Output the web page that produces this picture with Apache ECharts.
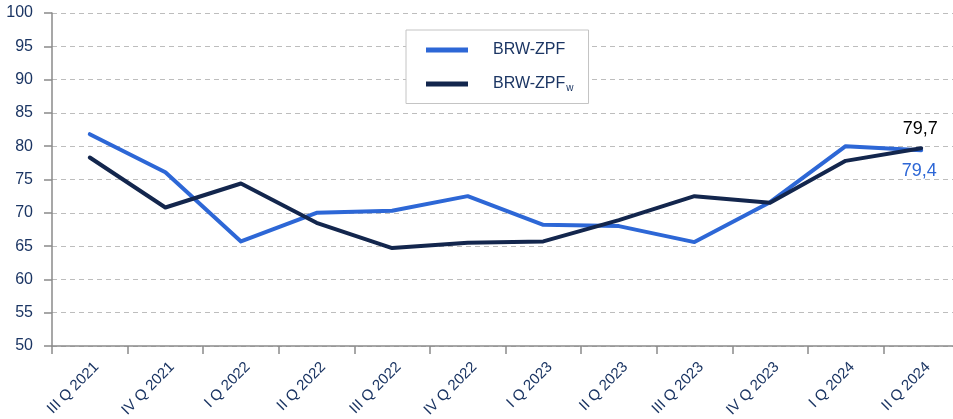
<!DOCTYPE html>
<html><head><meta charset="utf-8">
<script src="https://cdn.jsdelivr.net/npm/echarts@6/dist/echarts.min.js"></script>
<style>html,body{margin:0;padding:0;background:#fff}#c{width:953px;height:419px}</style>
</head><body><div id="c"></div>
<script>
const categories = ['III Q 2021','IV Q 2021','I Q 2022','II Q 2022','III Q 2022','IV Q 2022','I Q 2023','II Q 2023','III Q 2023','IV Q 2023','I Q 2024','II Q 2024'];
const brwZpf  = [81.8, 76.1, 65.7, 70.0, 70.3, 72.5, 68.2, 68.0, 65.6, 71.6, 80.0, 79.4];
const brwZpfw = [78.3, 70.8, 74.4, 68.5, 64.7, 65.5, 65.7, 68.9, 72.5, 71.5, 77.8, 79.7];
const yTicks = {min: 50, max: 100, interval: 5};

const FONT = 'Liberation Sans';
const NAVY = '#1b3563';
const BLUE = '#2d67d6';
const DARK = '#13264d';
const last = categories.length - 1;

const chart = echarts.init(document.getElementById('c'));
chart.setOption({
  animation: false,
  textStyle: {fontFamily: FONT},
  grid: {left: 52, top: 13, width: 907, height: 333, containLabel: false, outerBoundsMode: 'none'},
  legend: {
    orient: 'vertical', left: 406, top: 30,
    borderColor: '#c4c4c4', borderWidth: 1, backgroundColor: '#fff',
    padding: [12, 15, 10, 20],
    itemWidth: 42, itemHeight: 5, itemGap: 18,
    icon: 'rect',
    textStyle: {color: NAVY, fontSize: 16, fontFamily: FONT, padding: [0, 0, 0, 20],
      rich: {a: {color: NAVY, fontSize: 16, fontFamily: FONT}, b: {color: NAVY, fontSize: 10, fontFamily: FONT, verticalAlign: 'bottom', padding: [9, 0, 0, 1]}}},
    formatter: function (n) { return n === 'BRW-ZPFw' ? '{a|BRW-ZPF}{b|w}' : '{a|' + n + '}'; },
    data: ['BRW-ZPF', 'BRW-ZPFw']
  },
  xAxis: {
    type: 'category', data: categories, boundaryGap: true,
    axisLine: {lineStyle: {color: '#8a8a8a', width: 1.5}},
    axisTick: {show: true, length: 8, lineStyle: {color: '#8a8a8a', width: 1.5}},
    axisLabel: {rotate: 45, color: NAVY, fontSize: 15, fontFamily: FONT, margin: 12, interval: 0,
      verticalAlign: 'top', padding: [2, 0, 0, 0]}
  },
  yAxis: {
    type: 'value', min: yTicks.min, max: yTicks.max, interval: yTicks.interval,
    axisLine: {show: true, lineStyle: {color: '#8a8a8a', width: 1.5}},
    axisTick: {show: true, length: 8, inside: false, lineStyle: {color: '#8a8a8a', width: 1.5}},
    axisLabel: {color: NAVY, fontSize: 16, fontFamily: FONT, margin: 19},
    splitLine: {show: true, lineStyle: {color: '#bdbdbd', type: [5, 4], width: 1}}
  },
  series: [
    {
      name: 'BRW-ZPF', type: 'line', data: brwZpf.map((v, i) => i === last ? {value: v, label: {show: true}} : v),
      symbol: 'circle', symbolSize: 0.01, showSymbol: true, lineStyle: {color: BLUE, width: 4, cap: 'round', join: 'round'}, itemStyle: {color: BLUE},
      label: {show: false, position: 'bottom', distance: 12, offset: [-2, 0], color: BLUE, fontSize: 18, fontFamily: FONT,
        formatter: p => String(p.value).replace('.', ',')}
    },
    {
      name: 'BRW-ZPFw', type: 'line', data: brwZpfw.map((v, i) => i === last ? {value: v, label: {show: true}} : v),
      symbol: 'circle', symbolSize: 0.01, showSymbol: true, lineStyle: {color: DARK, width: 4, cap: 'round', join: 'round'}, itemStyle: {color: DARK},
      label: {show: false, position: 'top', distance: 10, offset: [-1, 0], color: '#000', fontSize: 18, fontFamily: FONT,
        formatter: p => String(p.value).replace('.', ',')}
    }
  ]
});
</script></body></html>
